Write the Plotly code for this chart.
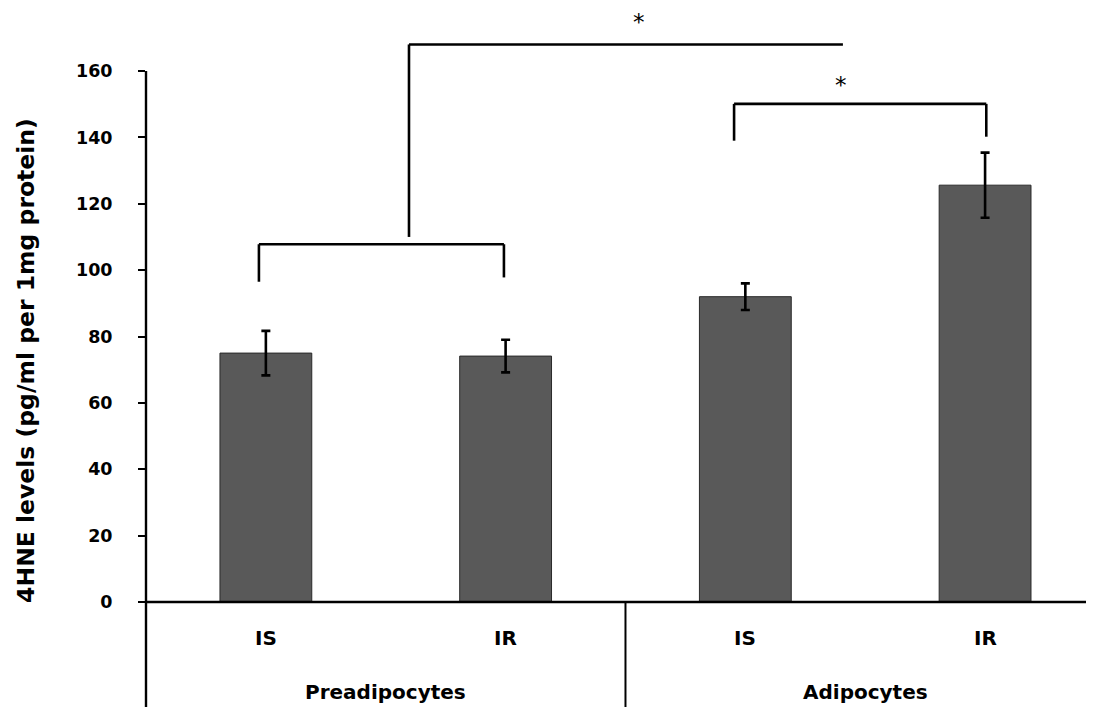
import plotly.graph_objects as go

# ---- data ----
subgroups = ["IS", "IR", "IS", "IR"]
groups = ["Preadipocytes", "Adipocytes"]
values = [75.0, 74.1, 92.0, 125.6]
errors = [6.7, 4.9, 4.0, 9.8]
y_ticks = [0, 20, 40, 60, 80, 100, 120, 140, 160]
y_title = "4HNE levels (pg/ml per 1mg protein)"

FONT = "DejaVu Sans"
W, H = 1094, 707
OFF = 8  # page body margin of the html page
x_idx = list(range(len(values)))

# page-pixel geometry of the reference
x_center0, x_step = 266.0, 239.7
y0_px, y160_px = 602.0, 71.0
ppu = (y0_px - y160_px) / 160.0
plot_left = x_center0 - 0.5 * x_step - OFF           # figure pixels
y_min = -(H - (y0_px - OFF)) / ppu
y_max = (y0_px - OFF) / ppu
x_max = (W + OFF - x_center0) / x_step

fig = go.Figure()
fig.add_trace(go.Bar(
    x=x_idx, y=values, width=0.383,
    marker=dict(color="#595959", line=dict(color="#2a2a2a", width=1)),
    error_y=dict(type="data", array=errors, visible=True,
                 color="black", thickness=2.6, width=4.5),
    showlegend=False, hoverinfo="skip",
))

blk = dict(color="black", width=2.6)
shapes = []
shapes.append(dict(type="line", xref="paper", yref="y", x0=0, x1=0,
                   y0=y_min - 5, y1=y_ticks[-1], line=dict(color="black", width=2.4)))
shapes.append(dict(type="line", xref="x", yref="y", x0=-0.5, x1=x_max + 0.2,
                   y0=0, y1=0, line=dict(color="black", width=2.4)))
shapes.append(dict(type="line", xref="x", yref="y", x0=1.5, x1=1.5,
                   y0=y_min - 5, y1=0, line=dict(color="black", width=2)))

def seg(x0, y0, x1, y1):
    shapes.append(dict(type="line", xref="x", yref="y", x0=x0, y0=y0,
                       x1=x1, y1=y1, line=blk))

seg(-0.029, 107.8, 0.993, 107.8)
seg(-0.029, 107.8, -0.029, 96.5)
seg(0.993, 107.8, 0.993, 97.8)
seg(0.597, 110.0, 0.597, 168.0)
seg(0.597, 168.0, 2.407, 168.0)
seg(1.953, 150.1, 3.005, 150.1)
seg(1.953, 150.1, 1.953, 139.0)
seg(3.005, 150.1, 3.005, 140.2)

bold = dict(family=FONT, color="black", weight="bold")
annotations = []
for xi, lab in zip(x_idx, subgroups):
    annotations.append(dict(x=xi, y=-10.8, xref="x", yref="y", text=lab,
                            showarrow=False, yanchor="middle",
                            font=dict(size=20, **bold)))
for gi, g in enumerate(groups):
    annotations.append(dict(x=0.5 + 2 * gi, y=-27.1, xref="x", yref="y", text=g,
                            showarrow=False, yanchor="middle",
                            font=dict(size=20, **bold)))
star_font = dict(family="DejaVu Sans", size=23, color="black")
# top significance star, anchored to the top edge so its box stays inside
annotations.append(dict(x=1.558, y=1, xref="x", yref="paper", text="*",
                        showarrow=False, yanchor="top", borderpad=0,
                        font=star_font))
annotations.append(dict(x=2.398, y=155.8, xref="x", yref="y", text="*",
                        showarrow=False, yanchor="middle", font=star_font))
plot_w = W - plot_left
annotations.append(dict(x=(26 - OFF - plot_left) / plot_w, y=72.9, xref="paper", yref="y",
                        text=y_title, textangle=-90, showarrow=False,
                        xanchor="center", yanchor="middle",
                        font=dict(size=23.5, **bold)))

fig.update_layout(
    width=W, height=H,
    margin=dict(l=plot_left, r=0, t=0, b=0),
    paper_bgcolor="white", plot_bgcolor="white",
    shapes=shapes, annotations=annotations,
    xaxis=dict(range=[-0.5, x_max], showticklabels=False, ticks="",
               showgrid=False, zeroline=False, showline=False, fixedrange=True),
    yaxis=dict(range=[y_min, y_max], tickvals=y_ticks, ticks="outside", ticklen=7,
               tickwidth=2.4, tickcolor="black", showgrid=False, zeroline=False,
               showline=False, ticklabelstandoff=22,
               tickfont=dict(size=17.5, **bold)),
)

fig.write_html("out.html")
